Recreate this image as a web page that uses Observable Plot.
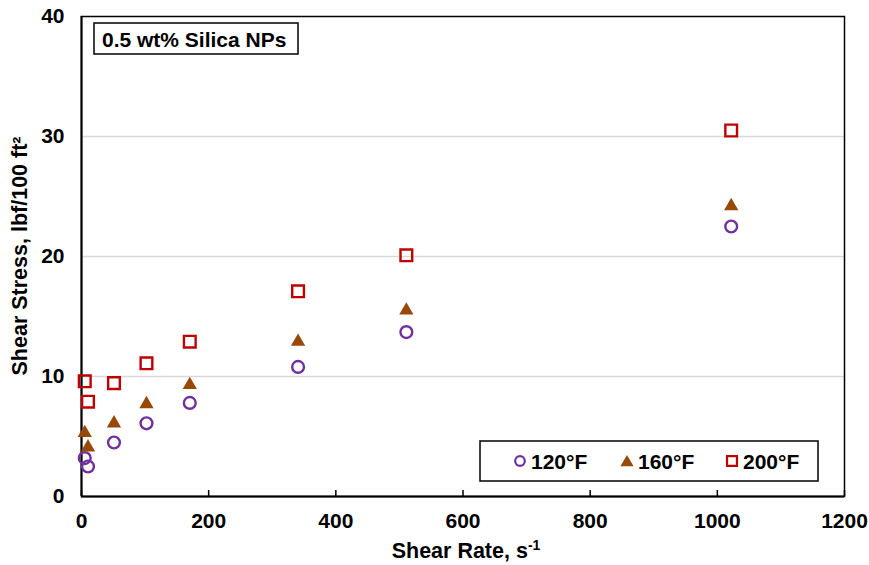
<!DOCTYPE html>
<html><head><meta charset="utf-8">
<script src="https://cdn.jsdelivr.net/npm/d3@7"></script>
<script src="https://cdn.jsdelivr.net/npm/@observablehq/plot@0.6"></script>
<style>
body{margin:0;background:#fff}
#chart{position:relative;width:869px;height:565px}
</style>
</head><body><div id="chart"></div>
<script>
// ---- data ----
const shearRate = [5.11, 10.22, 51.1, 102.2, 170.3, 340.6, 510.9, 1021.8];
const stress120 = [3.2, 2.5, 4.5, 6.1, 7.8, 10.8, 13.7, 22.5];
const stress160 = [5.3, 4.1, 6.1, 7.7, 9.3, 12.9, 15.5, 24.2];
const stress200 = [9.6, 7.9, 9.45, 11.1, 12.9, 17.1, 20.1, 30.5];
const seriesNames = ["120°F", "160°F", "200°F"];
const seriesColors = ["#7030A0", "#984807", "#C00000"];
const xTicks = [0, 200, 400, 600, 800, 1000, 1200];
const yTicks = [0, 10, 20, 30, 40];
const yGrid = [10, 20, 30];
const panelLabel = "0.5 wt% Silica NPs";
const xTitle = "Shear Rate, s";
const xTitleSup = "-1";
const yTitle = "Shear Stress, lbf/100 ft²";

const toRows = (ys) => shearRate.map((x, i) => ({x, y: ys[i]}));
const rows120 = toRows(stress120), rows160 = toRows(stress160), rows200 = toRows(stress200);

const font = "'Liberation Sans', Arial, Helvetica, sans-serif";

const chart = Plot.plot({
  width: 869, height: 565,
  marginLeft: 81, marginRight: 25, marginTop: 16, marginBottom: 69,
  style: {fontFamily: font, fontSize: "21px", fontWeight: "bold", color: "#000", background: "#fff", overflow: "visible"},
  x: {domain: [0, 1200]},
  y: {domain: [0, 40]},
  marks: [
    Plot.gridY(yGrid, {stroke: "#d9d9d9", strokeOpacity: 1, strokeWidth: 1.5}),
    Plot.frame({stroke: "#000", strokeWidth: 1.5}),
    Plot.ruleY([0], {stroke: "#000", strokeWidth: 2}),
    Plot.ruleX([0], {stroke: "#000", strokeWidth: 2}),
    Plot.axisX(xTicks, {tickSize: -6, tickPadding: 23, tickFormat: d => String(d), label: null, strokeWidth: 1.5}),
    Plot.axisY(yTicks, {tickSize: 0, tickPadding: 17, tickFormat: d => String(d), label: null}),
    Plot.dot(rows120, {x: "x", y: "y", symbol: "circle", r: 5.9, stroke: seriesColors[0], strokeWidth: 2.4, fill: "none"}),
    Plot.dot(rows160, {x: "x", y: "y", symbol: "triangle", r: 5.3, fill: seriesColors[1], stroke: "none"}),
    Plot.dot(rows200, {x: "x", y: "y", symbol: "square", r: 6.6, stroke: seriesColors[2], strokeWidth: 2.4, fill: "none"})
  ]
});
document.getElementById("chart").appendChild(chart);

const svg = d3.select(chart);
const txt = (sel) => sel.attr("font-family", font).attr("font-weight", "bold").attr("fill", "#000");

// axis titles
svg.append("text").call(txt).attr("font-size", 21.5)
  .attr("transform", "translate(27,256) rotate(-90)").attr("text-anchor", "middle").text(yTitle);
const xt = svg.append("text").call(txt).attr("font-size", 21.5)
  .attr("x", 466).attr("y", 558).attr("text-anchor", "middle");
xt.append("tspan").text(xTitle);
xt.append("tspan").attr("font-size", 14).attr("dy", -8).text(xTitleSup);

// panel label box
svg.append("rect").attr("x", 94).attr("y", 23).attr("width", 204).attr("height", 31)
  .attr("fill", "#fff").attr("stroke", "#000").attr("stroke-width", 1.5);
svg.append("text").call(txt).attr("font-size", 21).attr("text-anchor", "start")
  .attr("x", 102).attr("y", 46.5).text(panelLabel);

// legend box
svg.append("rect").attr("x", 480).attr("y", 441).attr("width", 338).attr("height", 40)
  .attr("fill", "#fff").attr("stroke", "#000").attr("stroke-width", 1.5);
const legX = [520, 627, 732];
const symbols = [d3.symbolCircle, d3.symbolTriangle, d3.symbolSquare];
const legR = [4.8, 4.9, 5.6];
seriesNames.forEach((name, i) => {
  const p = svg.append("path")
    .attr("transform", `translate(${legX[i]},${i === 1 ? 462.5 : 461})`)
    .attr("d", d3.symbol(symbols[i], Math.PI * legR[i] * legR[i])());
  if (i === 1) p.attr("fill", seriesColors[i]).attr("stroke", "none");
  else p.attr("fill", "none").attr("stroke", seriesColors[i]).attr("stroke-width", 2.2);
  svg.append("text").call(txt).attr("font-size", 21).attr("text-anchor", "start")
    .attr("x", legX[i] + 11).attr("y", 468.5).text(name);
});
</script>
</body></html>
